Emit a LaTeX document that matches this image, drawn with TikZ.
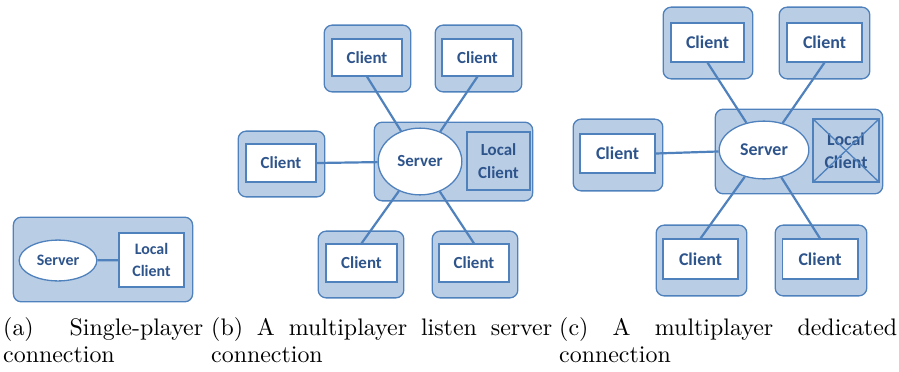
\documentclass[tikz,border=0pt]{standalone}
\usepackage{fontspec}
\usetikzlibrary{shapes.geometric}
\newfontfamily\boxfont{Carlito}
\newfontfamily\capfont{lmroman10-regular}[Extension=.otf]
\definecolor{shade}{RGB}{185,205,229}
\definecolor{edge}{RGB}{79,129,189}
\definecolor{ink}{RGB}{46,84,140}

\begin{document}
\begin{tikzpicture}[x=1bp, y=-1bp,
	outer/.style={draw=edge, fill=shade, line width=1.3bp, rounded corners=8bp, inner sep=0pt},
	box/.style={draw=edge, fill=white, line width=1.3bp, inner sep=0pt, text=ink, align=center},
	srv/.style={ellipse, draw=edge, fill=white, line width=1.3bp, inner sep=0pt, text=ink},
	link/.style={draw=edge, line width=2.2bp},
	caption/.style={anchor=base west, inner sep=0pt, align=justify, font=\capfont\fontsize{24}{28}\selectfont}]
	\useasboundingbox (0,0) rectangle (899,371);

	\begin{scope}[font=\boxfont\bfseries\fontsize{16}{23}\selectfont]
	\node[outer, minimum width=180, minimum height=85] (aout) at (103,259.5) {};
	\node[srv, minimum width=78, minimum height=41] (asrv) at (58,260.5) {Server};
	\node[box, minimum width=65, minimum height=54] (aloc) at (151.5,260) {Local\\Client};
	\draw[link] (asrv) -- (aloc);
	\end{scope}

	\begin{scope}[font=\boxfont\bfseries\fontsize{17}{23}\selectfont]
	\node[outer, minimum width=87, minimum height=67] (btlo) at (367.5,58.5) {};
	\node[outer, minimum width=87, minimum height=67] (btro) at (478.5,58.5) {};
	\node[outer, minimum width=87, minimum height=66] (blo) at (281.5,164) {};
	\node[outer, minimum width=159, minimum height=79] (bsrvo) at (453.5,161.5) {};
	\node[outer, minimum width=86, minimum height=67] (bblo) at (361,264.5) {};
	\node[outer, minimum width=86, minimum height=67] (bbro) at (475,264.5) {};
	\node[box, minimum width=70, minimum height=37] (btl) at (367,57.5) {Client};
	\node[box, minimum width=71, minimum height=37] (btr) at (477.5,57.5) {Client};
	\node[box, minimum width=70, minimum height=38] (bl) at (281,163) {Client};
	\node[box, minimum width=71, minimum height=38] (bbl) at (361.5,263) {Client};
	\node[box, minimum width=70, minimum height=38] (bbr) at (474,263) {Client};
	\node[srv, minimum width=84, minimum height=67] (bsrv) at (420,161.5) {Server};
	\node[box, fill=shade, minimum width=63, minimum height=58] (bloc) at (498.5,161) {Local\\Client};
	\draw[link] (btl.south) -- (bsrv);
	\draw[link] (btr.south) -- (bsrv);
	\draw[link] (bl.east) -- (bsrv);
	\draw[link] (bbl.north) -- (bsrv);
	\draw[link] (bbr.north) -- (bsrv);
	\end{scope}

	\begin{scope}[font=\boxfont\bfseries\fontsize{18}{23}\selectfont]
	\node[outer, minimum width=90, minimum height=72] (ctlo) at (708,43) {};
	\node[outer, minimum width=91, minimum height=72] (ctro) at (824.5,43) {};
	\node[outer, minimum width=90, minimum height=72] (clo) at (618,155) {};
	\node[outer, minimum width=168, minimum height=85] (csrvo) at (799,151.5) {};
	\node[outer, minimum width=91, minimum height=71] (cblo) at (701.5,260.5) {};
	\node[outer, minimum width=92, minimum height=71] (cbro) at (821,260.5) {};
	\node[box, minimum width=73, minimum height=39] (ctl) at (707.5,42.5) {Client};
	\node[box, minimum width=75, minimum height=39] (ctr) at (824.5,42.5) {Client};
	\node[box, minimum width=75, minimum height=39] (cl) at (617.5,153.5) {Client};
	\node[box, minimum width=75, minimum height=40] (cbl) at (700.5,259) {Client};
	\node[box, minimum width=76, minimum height=40] (cbr) at (820,259) {Client};
	\node[srv, minimum width=90, minimum height=58] (csrv) at (764,150) {Server};
	\node[box, fill=shade, minimum width=66, minimum height=63] (cloc) at (846,150.5) {Local\\Client};
	\draw[link, line width=1.3bp] (cloc.north west) -- (cloc.south east);
	\draw[link, line width=1.3bp] (cloc.north east) -- (cloc.south west);
	\draw[link] (ctl.south) -- (csrv);
	\draw[link] (ctr.south) -- (csrv);
	\draw[link] (cl.east) -- (csrv);
	\draw[link] (cbl.north) -- (csrv);
	\draw[link] (cbr.north) -- (csrv);
	\end{scope}

	\node[caption, text width=200bp] (capa) at (3,335) {(a) Single-player\linebreak connection};
	\node[caption, text width=341bp] (capb) at (211,335) {(b) A multiplayer listen server\linebreak connection};
	\node[caption, text width=338bp] (capc) at (559,335) {(c) A multiplayer dedicated\linebreak connection};
\end{tikzpicture}
\end{document}
